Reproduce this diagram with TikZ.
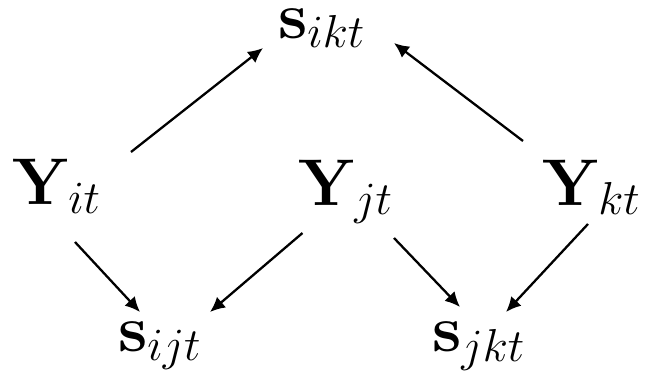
\documentclass[tikz,border=0pt]{standalone}
\usepackage{fix-cm}
\usetikzlibrary{arrows.meta,calc}
\begin{document}
\begin{tikzpicture}[x=1pt,y=-1pt,
  lbl/.style={anchor=base west,inner sep=0pt,font=\fontsize{66}{80}\selectfont},
  arr/.style={-{Latex[length=15pt,width=14pt]},line width=2.3pt}]
\useasboundingbox (0,0) rectangle (654,375);
\node[lbl] (sikt) at (278,38) {$\mathbf{s}_{ikt}$};
\node[lbl] (yi) at (12,204) {$\mathbf{Y}_{it}$};
\node[lbl] (yj) at (298,205) {$\mathbf{Y}_{jt}$};
\node[lbl] (yk) at (542,205) {$\mathbf{Y}_{kt}$};
\node[lbl] (sij) at (118,351) {$\mathbf{s}_{ijt}$};
\node[lbl] (sjk) at (432,351.5) {$\mathbf{s}_{jkt}$};
\draw[arr] ($(yi.base west)+(119,-52)$) -- ($(sikt.base west)+(-15,10)$);
\draw[arr] ($(yk.base west)+(-19,-64)$) -- ($(sikt.base west)+(116,5)$);
\draw[arr] ($(yi.base west)+(63,38)$) -- ($(sij.base west)+(22,-39)$);
\draw[arr] ($(yj.base west)+(4.5,28)$) -- ($(sij.base west)+(92,-39)$);
\draw[arr] ($(yj.base west)+(96,33)$) -- ($(sjk.base west)+(28,-44.5)$);
\draw[arr] ($(yk.base west)+(46,19)$) -- ($(sjk.base west)+(74,-39.5)$);
\end{tikzpicture}
\end{document}
